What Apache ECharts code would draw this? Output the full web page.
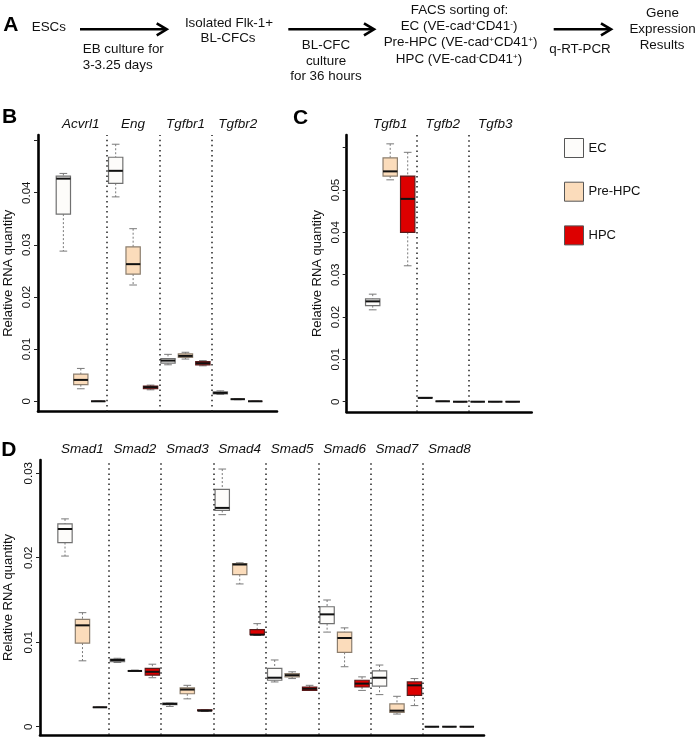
<!DOCTYPE html>
<html>
<head>
<meta charset="utf-8">
<script src="https://cdn.jsdelivr.net/npm/echarts@6/dist/echarts.min.js"></script>
<style>
html, body { margin: 0; padding: 0; background: #fff; }
#chart { width: 697px; height: 740px; }
</style>
</head>
<body>
<div id="chart"></div>
<script>
// cell populations
const groups = ['EC', 'Pre-HPC', 'HPC'];

// box stats per gene: [min, q1, median, q3, max]
const bGenes = ['Acvrl1', 'Eng', 'Tgfbr1', 'Tgfbr2'];
const bEC = [[0.0288, 0.0359, 0.0427, 0.0432, 0.0437], [0.0392, 0.0418, 0.0442, 0.0468, 0.0493], [0.0070, 0.0073, 0.0078, 0.0082, 0.0090], [0.0013, 0.0014, 0.0016, 0.0018, 0.0020]];
const bPre = [[0.0024, 0.0032, 0.0041, 0.0052, 0.0063], [0.0223, 0.0244, 0.0263, 0.0296, 0.0331], [0.0081, 0.0084, 0.0087, 0.0091, 0.0094], [0.0003, 0.0004, 0.0004, 0.0004, 0.0005]];
const bHPC = [[0, 0, 0, 0, 0], [0.0022, 0.0024, 0.0027, 0.0029, 0.0031], [0.0068, 0.0070, 0.0073, 0.0076, 0.0078], [0, 0, 0, 0, 0]];
const bTicks = [0, 0.01, 0.02, 0.03, 0.04, 0.05];
const bTickLabels = [0, 0.01, 0.02, 0.03, 0.04];

const cGenes = ['Tgfb1', 'Tgfb2', 'Tgfb3'];
const cEC = [[0.0217, 0.0227, 0.0237, 0.0243, 0.0254], [0.0008, 0.0009, 0.0009, 0.0010, 0.0010], [0, 0, 0, 0, 0]];
const cPre = [[0.0524, 0.0533, 0.0544, 0.0576, 0.0609], [0.0001, 0.0001, 0.0001, 0.0001, 0.0001], [0, 0, 0, 0, 0]];
const cHPC = [[0.0321, 0.0400, 0.0479, 0.0533, 0.0589], [0, 0, 0, 0, 0], [0, 0, 0, 0, 0]];
const cTicks = [0, 0.01, 0.02, 0.03, 0.04, 0.05, 0.06];
const cTickLabels = [0, 0.01, 0.02, 0.03, 0.04, 0.05];

const dGenes = ['Smad1', 'Smad2', 'Smad3', 'Smad4', 'Smad5', 'Smad6', 'Smad7', 'Smad8'];
const dEC = [
  [0.0202, 0.0218, 0.0234, 0.0240, 0.0246],
  [0.0076, 0.0077, 0.0079, 0.0080, 0.0081],
  [0.0024, 0.0026, 0.0027, 0.0028, 0.0028],
  [0.0251, 0.0256, 0.0259, 0.0281, 0.0305],
  [0.0053, 0.0055, 0.0058, 0.0069, 0.0079],
  [0.0112, 0.0122, 0.0133, 0.0142, 0.0150],
  [0.0038, 0.0048, 0.0058, 0.0066, 0.0073],
  [0, 0, 0, 0, 0]
];
const dPre = [
  [0.0078, 0.0099, 0.0120, 0.0127, 0.0135],
  [0.0066, 0.0066, 0.0066, 0.0066, 0.0067],
  [0.0033, 0.0039, 0.0044, 0.0046, 0.0049],
  [0.0169, 0.0180, 0.0192, 0.0193, 0.0194],
  [0.0057, 0.0059, 0.0061, 0.0063, 0.0065],
  [0.0071, 0.0088, 0.0105, 0.0112, 0.0117],
  [0.0015, 0.0017, 0.0019, 0.0027, 0.0036],
  [0, 0, 0, 0, 0]
];
const dHPC = [
  [0.0023, 0.0023, 0.0023, 0.0023, 0.0023],
  [0.0058, 0.0061, 0.0065, 0.0069, 0.0074],
  [0.0018, 0.0019, 0.0019, 0.0020, 0.0020],
  [0.0108, 0.0109, 0.0109, 0.0115, 0.0122],
  [0.0043, 0.0043, 0.0045, 0.0047, 0.0049],
  [0.0043, 0.0047, 0.0051, 0.0055, 0.0059],
  [0.0025, 0.0037, 0.0049, 0.0053, 0.0057],
  [0, 0, 0, 0, 0]
];
const dTicks = [0, 0.01, 0.02, 0.03];
const dTickLabels = [0, 0.01, 0.02, 0.03];

const FONT = '"Liberation Sans", Arial, Helvetica, sans-serif';
const fills = { 'EC': '#fdfcfa', 'Pre-HPC': '#fbdcbb', 'HPC': '#dd0000' };
const strokes = { 'EC': '#707070', 'Pre-HPC': '#8c7e6e', 'HPC': '#5a1c1c' };

const panels = [
  { genes: bGenes, stats: [bEC, bPre, bHPC], ticks: bTicks, tickLabels: bTickLabels,
    grid: { left: 38, top: 135, width: 239, height: 276.5 }, x: [-0.454, 13.25], y: [-0.00196, 0.05107] },
  { genes: cGenes, stats: [cEC, cPre, cHPC], ticks: cTicks, tickLabels: cTickLabels,
    grid: { left: 346.7, top: 135, width: 185, height: 277 }, x: [-0.486, 10.086], y: [-0.00243, 0.06299] },
  { genes: dGenes, stats: [dEC, dPre, dHPC], ticks: dTicks, tickLabels: dTickLabels,
    grid: { left: 40, top: 460, width: 444, height: 275 }, x: [-0.431, 24.98], y: [-0.00098, 0.03157] }
];

function boxRender(stroke) {
  return function (params, api) {
    const x = api.value(0);
    const pMin = api.coord([x, api.value(1)]);
    const pQ1 = api.coord([x, api.value(2)]);
    const pMed = api.coord([x, api.value(3)]);
    const pQ3 = api.coord([x, api.value(4)]);
    const pMax = api.coord([x, api.value(5)]);
    const unit = api.size([1, 0])[0];
    const half = unit * 0.41;
    const cap = unit * 0.22;
    const cx = pMed[0];
    const dashed = { stroke: '#7a7a7a', lineWidth: 1, lineDash: [2, 2] };
    const solid = { stroke: '#7a7a7a', lineWidth: 1 };
    return {
      type: 'group',
      children: [
        { type: 'line', shape: { x1: cx, y1: pMax[1], x2: cx, y2: pQ3[1] }, style: dashed },
        { type: 'line', shape: { x1: cx, y1: pQ1[1], x2: cx, y2: pMin[1] }, style: dashed },
        { type: 'line', shape: { x1: cx - cap, y1: pMax[1], x2: cx + cap, y2: pMax[1] }, style: solid },
        { type: 'line', shape: { x1: cx - cap, y1: pMin[1], x2: cx + cap, y2: pMin[1] }, style: solid },
        { type: 'rect', shape: { x: cx - half, y: pQ3[1], width: half * 2, height: pQ1[1] - pQ3[1] },
          style: { fill: api.visual('color'), stroke: stroke, lineWidth: 1.2 } },
        { type: 'line', shape: { x1: cx - half, y1: pMed[1], x2: cx + half, y2: pMed[1] },
          style: { stroke: '#111', lineWidth: 2 } }
      ]
    };
  };
}

const fmt = v => String(+(+v).toFixed(3));

const grids = [], xAxes = [], yAxes = [], series = [];
panels.forEach((p, pi) => {
  grids.push(Object.assign({ outerBoundsMode: 'none' }, p.grid));
  xAxes.push({
    gridIndex: pi, type: 'value', position: 'bottom', min: p.x[0], max: p.x[1],
    axisLine: { show: true, onZero: false, lineStyle: { color: '#000', width: 2.6 } },
    axisTick: { show: false }, axisLabel: { show: false }, splitLine: { show: false }
  });
  xAxes.push({
    gridIndex: pi, type: 'value', position: 'top', min: p.x[0], max: p.x[1],
    axisLine: { show: false }, axisTick: { show: false }, splitLine: { show: false },
    axisLabel: {
      customValues: p.genes.map((g, i) => i * 3 + 2),
      formatter: v => p.genes[Math.round((v - 2) / 3)],
      margin: 4, fontSize: 13.5, fontStyle: 'italic', color: '#111', fontFamily: FONT
    }
  });
  yAxes.push({
    gridIndex: pi, type: 'value', min: p.y[0], max: p.y[1],
    name: 'Relative RNA quantity', nameLocation: 'middle', nameRotate: 90, nameGap: 23,
    nameTextStyle: { fontSize: 13, color: '#111', fontFamily: FONT },
    axisLine: { show: true, onZero: false, lineStyle: { color: '#000', width: 2.6 } },
    axisTick: { show: true, length: 4, customValues: p.ticks, lineStyle: { color: '#222', width: 1 } },
    axisLabel: { customValues: p.tickLabels, formatter: fmt, rotate: 90, margin: 5, fontSize: 11.5, color: '#111', fontFamily: FONT },
    splitLine: { show: false }
  });
  const seps = p.genes.slice(1).map((g, i) => ({ xAxis: (i + 1) * 3 + 0.5 }));
  groups.forEach((name, gi) => {
    series.push({
      type: 'custom', name: name, xAxisIndex: pi * 2, yAxisIndex: pi,
      itemStyle: { color: fills[name] },
      renderItem: boxRender(strokes[name]),
      encode: { x: 0, y: [1, 2, 3, 4, 5] },
      data: p.stats[gi].map((s, i) => [i * 3 + gi + 1].concat(s)),
      silent: true, z: 3,
      markLine: gi === 0 ? {
        silent: true, symbol: 'none', label: { show: false }, emphasis: { disabled: true },
        lineStyle: { color: '#222', width: 1.5, type: [1.5, 3.6] },
        data: seps
      } : undefined
    });
  });
});

// panel A flow diagram
const flowTexts = [
  ['ESCs', 31.7, 27.5, 'left'],
  ['EB culture for', 82.7, 49.3, 'left'],
  ['3-3.25 days', 82.7, 65, 'left'],
  ['Isolated Flk-1+', 229, 23.3, 'center'],
  ['BL-CFCs', 228, 38.5, 'center'],
  ['BL-CFC', 326, 45, 'center'],
  ['culture', 326, 61, 'center'],
  ['for 36 hours', 326, 76.7, 'center'],
  ['FACS sorting of:', 459.5, 10, 'center'],
  ['EC (VE-cad{s|+}CD41{s|-})', 459, 26, 'center'],
  ['Pre-HPC (VE-cad{s|+}CD41{s|+})', 460.5, 42.7, 'center'],
  ['HPC (VE-cad{s|-}CD41{s|+})', 459, 59.3, 'center'],
  ['q-RT-PCR', 580, 49.3, 'center'],
  ['Gene', 662.5, 13.3, 'center'],
  ['Expression', 662.5, 29.5, 'center'],
  ['Results', 662, 45, 'center']
];
const arrows = [[80, 166.7], [288.3, 374], [553.7, 611]];
const letters = [['A', 10.8, 25.5], ['B', 9.5, 117], ['C', 300.5, 118], ['D', 8.8, 450]];

const graphic = [];
flowTexts.forEach(t => {
  graphic.push({
    type: 'text', silent: true,
    style: {
      text: t[0], x: t[1], y: t[2], textAlign: t[3], textVerticalAlign: 'middle',
      font: '13.4px ' + FONT, fill: '#111',
      rich: { s: { fontSize: 8, verticalAlign: 'top', fontFamily: FONT, fill: '#111' } }
    }
  });
});
arrows.forEach(a => {
  const y = 29.3;
  graphic.push({ type: 'line', silent: true, shape: { x1: a[0], y1: y, x2: a[1] - 1, y2: y }, style: { stroke: '#000', lineWidth: 2.6 } });
  graphic.push({ type: 'polyline', silent: true, shape: { points: [[a[1] - 10, y - 6], [a[1], y], [a[1] - 10, y + 6]] }, style: { stroke: '#000', lineWidth: 2.6, fill: null } });
});
letters.forEach(l => {
  graphic.push({
    type: 'text', silent: true,
    style: { text: l[0], x: l[1], y: l[2], textAlign: 'center', textVerticalAlign: 'middle', font: 'bold 21px ' + FONT, fill: '#000' }
  });
});

const chart = echarts.init(document.getElementById('chart'), null, { renderer: 'canvas' });
chart.setOption({
  animation: false,
  backgroundColor: '#fff',
  textStyle: { fontFamily: FONT },
  legend: {
    data: groups, orient: 'vertical', left: 559, top: 133,
    itemWidth: 19, itemHeight: 19, itemGap: 23.7, icon: 'rect', selectedMode: false,
    textStyle: { fontSize: 13, color: '#111', fontFamily: FONT },
    itemStyle: { borderColor: '#555', borderWidth: 1 }
  },
  grid: grids,
  xAxis: xAxes,
  yAxis: yAxes,
  series: series,
  graphic: graphic
});
</script>
</body>
</html>
